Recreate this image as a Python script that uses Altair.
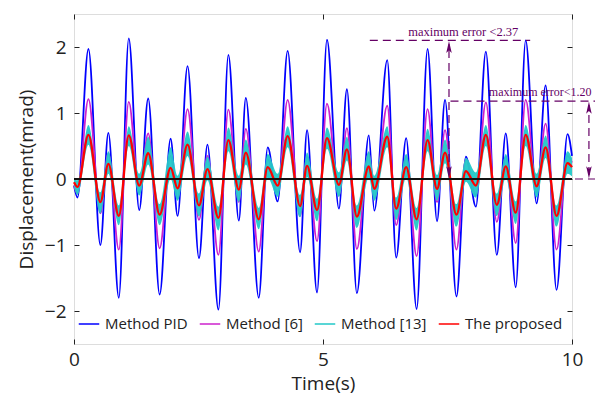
import altair as alt
import pandas as pd

# ---- data (extremum times and values) ----
t = [0.00, 0.07, 0.29, 0.53, 0.69, 0.90, 1.10, 1.31, 1.49, 1.72, 1.94, 2.08, 2.28, 2.51,
     2.68, 2.90, 3.10, 3.31, 3.45, 3.71, 3.89, 4.09, 4.29, 4.54, 4.68, 4.88, 5.08, 5.32,
     5.48, 5.68, 5.92, 6.03, 6.29, 6.47, 6.67, 6.88, 7.10, 7.29, 7.45, 7.68, 7.87, 8.07,
     8.27, 8.49, 8.67, 8.87, 9.07, 9.29, 9.47, 9.69, 9.91, 10.00]

pid = [-0.10, -0.28, 1.97, -1.00, 0.70, -1.80, 2.13, -0.47, 1.22, -1.75, 0.61, -0.56, 1.71, -1.20,
       0.52, -1.98, 1.88, -0.63, 1.23, -1.80, 0.48, -0.34, 1.94, -1.11, 0.74, -1.72, 2.11, -0.45,
       1.36, -1.73, 0.66, -0.48, 1.80, -1.19, 0.62, -1.97, 1.97, -0.64, 1.20, -1.78, 0.34, -0.42,
       1.93, -1.15, 0.69, -1.64, 2.10, -0.37, 1.42, -1.68, 0.68, 0.35]

m6 = [-0.10, -0.22, 1.21, -0.52, 0.39, -1.07, 1.17, -0.21, 0.69, -1.05, 0.35, -0.30, 1.06, -0.62,
      0.35, -1.15, 1.05, -0.35, 0.76, -1.10, 0.30, -0.20, 1.20, -0.56, 0.34, -0.94, 1.14, -0.25,
      0.77, -1.06, 0.40, -0.30, 1.11, -0.70, 0.34, -1.17, 1.06, -0.35, 0.74, -1.07, 0.30, -0.25,
      1.16, -0.65, 0.34, -0.97, 1.20, -0.20, 0.84, -1.07, 0.35, 0.25]

proposed = [-0.05, -0.12, 0.67, -0.35, 0.23, -0.56, 0.66, -0.10, 0.39, -0.54, 0.17, -0.14, 0.52, -0.40,
            0.15, -0.59, 0.59, -0.16, 0.40, -0.61, 0.18, -0.10, 0.65, -0.41, 0.20, -0.47, 0.62, -0.09,
            0.45, -0.57, 0.19, -0.15, 0.64, -0.45, 0.18, -0.61, 0.59, -0.15, 0.40, -0.54, 0.12, -0.10,
            0.67, -0.39, 0.19, -0.51, 0.67, -0.11, 0.48, -0.56, 0.24, 0.18]

m13_hi = [0.00, -0.02, 0.82, -0.20, 0.42, -0.40, 0.80, 0.08, 0.64, -0.38, 0.48, 0.05, 0.72, -0.22,
          0.34, -0.42, 0.78, 0.05, 0.60, -0.44, 0.38, 0.08, 0.80, -0.24, 0.40, -0.30, 0.78, 0.10,
          0.64, -0.40, 0.42, 0.05, 0.80, -0.28, 0.38, -0.44, 0.76, 0.06, 0.60, -0.38, 0.32, 0.10,
          0.82, -0.22, 0.38, -0.34, 0.82, 0.08, 0.66, -0.40, 0.42, 0.32]

m13_lo = [-0.12, -0.24, 0.52, -0.52, 0.08, -0.70, 0.50, -0.25, 0.22, -0.70, 0.00, -0.33, 0.35, -0.57,
          -0.02, -0.78, 0.42, -0.35, 0.22, -0.76, 0.02, -0.27, 0.48, -0.58, 0.03, -0.64, 0.46, -0.27,
          0.28, -0.74, 0.02, -0.33, 0.48, -0.62, 0.02, -0.78, 0.42, -0.33, 0.24, -0.72, -0.04, -0.28,
          0.50, -0.56, 0.02, -0.68, 0.50, -0.28, 0.32, -0.72, 0.08, 0.04]

series_names = ["Method PID", "Method [6]", "Method [13]", "The proposed"]
series_colors = ["#0000ff", "#cc22cc", "#22c8c8", "#ff0000"]

x_ticks = [0, 5, 10]
y_ticks = [-2, -1, 0, 1, 2]

# annotation values
ann_h = pd.DataFrame({"x1": [5.94, 7.56, 10.06], "x2": [9.16, 10.8, 10.8], "y": [2.10, 1.18, 0.0]})
ann_v = pd.DataFrame({"x": [7.53, 10.34], "y1": [0.06, 0.06], "y2": [2.04, 1.12]})
ann_up = pd.DataFrame({"x": [7.53, 10.34], "y": [2.00, 1.08]})
ann_dn = pd.DataFrame({"x": [7.53, 10.34], "y": [0.10, 0.10]})
ann_txt = pd.DataFrame({"x": [6.71, 8.33], "y": [2.22, 1.32],
                        "label": ["maximum error <2.37", "maximum error<1.20"],
                        "fs": [12.5, 12.0]})

# ---- tables ----
df = pd.DataFrame({"t": t, "Method PID": pid, "Method [6]": m6,
                   "The proposed": proposed, "hi": m13_hi, "lo": m13_lo})
long = df.melt(id_vars="t", value_vars=["Method PID", "Method [6]", "The proposed"],
               var_name="series", value_name="v")

xs = alt.Scale(domain=[0, 10], nice=False, zero=False)
ys = alt.Scale(domain=[-2.5, 2.5], nice=False, zero=False)
cs = alt.Scale(domain=series_names, range=series_colors)

FONT = "Open Sans"
legend = alt.Legend(orient="none", legendX=4, legendY=299, direction="horizontal", title=None,
                    symbolType="stroke", symbolSize=420, symbolStrokeWidth=1.5,
                    labelFont=FONT, labelFontSize=15, labelColor="#222", labelOffset=5,
                    columnPadding=8, padding=0)

x_bottom = alt.Axis(values=x_ticks, title="Time(s)", domain=False, grid=False, tickSize=5,
                    offset=-5, labelPadding=6, labelFlush=False, tickColor="#222", labelFont=FONT,
                    labelFontSize=19, labelColor="#222", titleFont=FONT, titleFontSize=19,
                    titleFontWeight="normal", titleColor="#222", titlePadding=5)
y_left = alt.Axis(values=y_ticks, title="Displacement(mrad)", domain=False, grid=False, tickSize=5,
                  offset=-5, labelPadding=8, labelFlush=False, tickColor="#222", labelFont=FONT,
                  labelFontSize=19, labelColor="#222", titleFont=FONT, titleFontSize=19,
                  titleFontWeight="normal", titleColor="#222", titlePadding=8)
x_top = alt.Axis(values=x_ticks, orient="top", title=None, labels=False, domain=False, grid=False,
                 tickSize=5, offset=-5, tickColor="#222")
y_right = alt.Axis(values=y_ticks, orient="right", title=None, labels=False, domain=False, grid=False,
                   tickSize=5, offset=-5, tickColor="#222")

base = alt.Chart(long)

lines_bm = base.transform_filter(
    alt.FieldOneOfPredicate(field="series", oneOf=["Method PID", "Method [6]"])
).mark_line(interpolate="monotone", strokeWidth=1.8).encode(
    x=alt.X("t:Q", scale=xs, axis=x_bottom),
    y=alt.Y("v:Q", scale=ys, axis=y_left),
    color=alt.Color("series:N", scale=cs, legend=legend),
    detail="series:N",
)

band = alt.Chart(df).mark_area(interpolate="monotone", color="#22c8c8", opacity=0.95).encode(
    x=alt.X("t:Q", scale=xs, axis=None),
    y=alt.Y("lo:Q", scale=ys, axis=None),
    y2="hi:Q",
)

red = base.transform_filter(alt.datum.series == "The proposed").mark_line(
    interpolate="monotone", strokeWidth=2.3).encode(
    x=alt.X("t:Q", scale=xs, axis=x_top),
    y=alt.Y("v:Q", scale=ys, axis=y_right),
    color=alt.Color("series:N", scale=cs, legend=legend),
)

zero = alt.Chart(pd.DataFrame({"z": [0.0]})).mark_rule(color="#111", strokeWidth=1.8).encode(
    y=alt.Y("z:Q", scale=ys, axis=None))

PURPLE = "#650065"
hlines = alt.Chart(ann_h).mark_rule(color=PURPLE, strokeWidth=1.2, strokeDash=[8, 5]).encode(
    x=alt.X("x1:Q", scale=xs, axis=None), x2="x2:Q", y=alt.Y("y:Q", scale=ys, axis=None))
vlines = alt.Chart(ann_v).mark_rule(color=PURPLE, strokeWidth=1.2, strokeDash=[8, 5]).encode(
    x=alt.X("x:Q", scale=xs, axis=None), y=alt.Y("y1:Q", scale=ys, axis=None), y2="y2:Q")
arrow_up = alt.Chart(ann_up).mark_point(shape="M0,-1L0.45,1L0,0.55L-0.45,1Z", filled=True,
                                        color=PURPLE, size=150, opacity=1).encode(
    x=alt.X("x:Q", scale=xs, axis=None), y=alt.Y("y:Q", scale=ys, axis=None))
arrow_dn = alt.Chart(ann_dn).mark_point(shape="M0,1L0.45,-1L0,-0.55L-0.45,-1Z", filled=True,
                                        color=PURPLE, size=150, opacity=1).encode(
    x=alt.X("x:Q", scale=xs, axis=None), y=alt.Y("y:Q", scale=ys, axis=None))
texts = alt.Chart(ann_txt).mark_text(font="Liberation Serif", color=PURPLE,
                                     align="left", baseline="middle").encode(
    x=alt.X("x:Q", scale=xs, axis=None), y=alt.Y("y:Q", scale=ys, axis=None), text="label:N",
    size=alt.Size("fs:Q", scale=None, legend=None))

chart = alt.layer(lines_bm, band, red, zero, hlines, vlines, arrow_up, arrow_dn, texts).resolve_axis(
    x="independent", y="independent"
).properties(
    width=498, height=330,
    autosize=alt.AutoSizeParams(type="none"),
    padding={"left": 66, "top": 6, "right": 23, "bottom": 54},
).configure_view(stroke="#111", strokeWidth=1.3).configure(background="white")

chart.save("out.html", embed_options={"renderer": "svg", "actions": False})
